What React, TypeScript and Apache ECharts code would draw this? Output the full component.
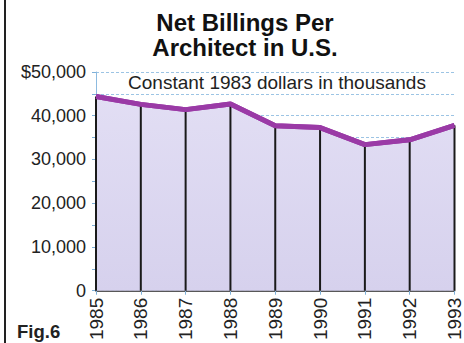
import React, { useEffect, useRef } from "react";
import * as echarts from "echarts";

const years = ["1985", "1986", "1987", "1988", "1989", "1990", "1991", "1992", "1993"];
const billings = [44400, 42600, 41400, 42700, 37700, 37300, 33400, 34500, 37800];
const yTicks = [0, 10000, 20000, 30000, 40000, 50000];

const FONT = "'Liberation Sans', Arial, Helvetica, sans-serif";

export default function App() {
  const ref = useRef<HTMLDivElement>(null);
  useEffect(() => {
    if (!ref.current) return;
    const chart = echarts.init(ref.current, undefined, { renderer: "svg" });
    chart.setOption({
      animation: false,
      backgroundColor: "#ffffff",
      textStyle: { fontFamily: FONT },
      title: {
        text: "Net Billings Per\nArchitect in U.S.",
        left: 240,
        textAlign: "center",
        top: 5,
        textStyle: { fontSize: 24, fontWeight: "bold", color: "#111", lineHeight: 25, fontFamily: FONT },
      },
      grid: { left: 96, right: 2, top: 72, bottom: 52, containLabel: false },
      xAxis: {
        type: "category",
        data: years,
        boundaryGap: false,
        axisLine: { lineStyle: { color: "#222", width: 1.5 } },
        axisTick: { show: true, length: 4, lineStyle: { color: "#7fb0d8" } },
        axisLabel: {
          rotate: 90,
          fontSize: 19,
          color: "#222",
          margin: 7,
          fontFamily: FONT,
        },
        splitLine: { show: false },
      },
      yAxis: {
        type: "value",
        min: 0,
        max: 50000,
        interval: 5000,
        axisLine: { show: true, lineStyle: { color: "#8dbbe0", width: 1 } },
        axisTick: { show: true, length: 4, lineStyle: { color: "#7fb0d8" } },
        axisLabel: {
          fontSize: 18,
          color: "#222",
          margin: 10,
          fontFamily: FONT,
          formatter: (v: number) => {
            if (!yTicks.includes(v)) return "";
            if (v === 0) return "0";
            const s = v.toLocaleString("en-US");
            return v === 50000 ? "$" + s : s;
          },
        },
        splitLine: { show: true, lineStyle: { color: "#9cc4e4", type: [3, 2], width: 1 } },
      },
      series: [
        {
          type: "line",
          data: billings,
          symbol: "none",
          z: 2,
          lineStyle: { color: "#9a3aa6", width: 5 },
          areaStyle: {
            opacity: 1,
            color: new echarts.graphic.LinearGradient(0, 0, 0, 1, [
              { offset: 0, color: "#e2def4" },
              { offset: 1, color: "#d6d1ed" },
            ]),
          },
        },
        {
          type: "bar",
          data: billings,
          barWidth: 2,
          z: 3,
          itemStyle: { color: "#1a1a1a" },
        },
        {
          type: "line",
          data: billings,
          symbol: "none",
          z: 4,
          lineStyle: { color: "#9a3aa6", width: 5, join: "round" },
        },
      ],
      graphic: [
        {
          type: "line",
          shape: { x1: 5, y1: 0, x2: 5, y2: 343 },
          style: { stroke: "#222", lineWidth: 2 },
        },
        {
          type: "rect",
          shape: { x: 120, y: 73, width: 320, height: 19 },
          style: { fill: "#ffffff" },
          z: 5,
        },
        {
          type: "text",
          x: 277,
          y: 82,
          z: 6,
          style: {
            text: "Constant 1983 dollars in thousands",
            fontSize: 19,
            fill: "#222",
            fontFamily: FONT,
            align: "center",
            verticalAlign: "middle",
          },
        },
        {
          type: "text",
          x: 17,
          y: 331,
          style: {
            text: "Fig.6",
            fontSize: 18.5,
            fontWeight: "bold",
            fill: "#222",
            fontFamily: FONT,
            align: "left",
            verticalAlign: "middle",
          },
        },
      ],
    });
    return () => chart.dispose();
  }, []);
  return <div ref={ref} style={{ width: 464, height: 343, position: "absolute", left: 0, top: 0 }} />;
}
